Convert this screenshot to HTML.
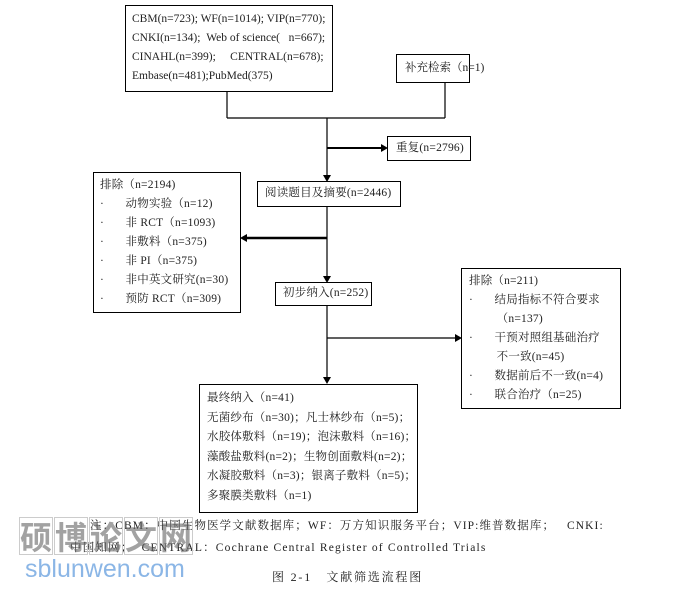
<!DOCTYPE html>
<html><head><meta charset="utf-8"><style>
body{margin:0;width:696px;height:589px;background:#fff;position:relative;overflow:hidden;font-family:"Liberation Serif","Noto Serif CJK SC",serif;font-size:11.5px;letter-spacing:0.2px;color:#222}
.b{position:absolute;border:1.5px solid #000;box-sizing:border-box;background:#fff}
.t{position:absolute;white-space:nowrap;line-height:19px}
.wm{position:absolute;top:517px;width:34px;height:38px;border:1px solid #ccc;box-sizing:border-box;font-family:"Noto Sans CJK SC",sans-serif;font-weight:bold;font-size:32px;line-height:36px;text-align:center;color:rgba(100,100,100,0.6);letter-spacing:0}
</style></head><body>
<svg width="696" height="589" style="position:absolute;left:0;top:0">
<g stroke="#000" stroke-width="1.2" fill="none">
<line x1="227" y1="91" x2="227" y2="118"/><line x1="445" y1="82" x2="445" y2="118"/>
<line x1="227" y1="118" x2="445" y2="118"/>
<line x1="327" y1="118" x2="327" y2="176"/>
<line x1="327" y1="148" x2="381" y2="148" stroke-width="2"/>
<line x1="327" y1="206" x2="327" y2="276"/>
<line x1="327" y1="238" x2="246" y2="238" stroke-width="2.5"/>
<line x1="327" y1="305" x2="327" y2="378"/>
<line x1="327" y1="338" x2="455" y2="338"/>
</g>
<g fill="#000">
<polygon points="323,175 331,175 327,182"/>
<polygon points="381,144 381,152 388,148"/>
<polygon points="247,234 247,242 240,238"/>
<polygon points="323,276 331,276 327,283"/>
<polygon points="455,334 455,342 462,338"/>
<polygon points="323,377 331,377 327,384"/>
</g></svg>
<div class="b" style="left:125px;top:5px;width:208px;height:87px"></div>
<div class="t" style="left:132px;top:10px;letter-spacing:0">CBM(n=723); WF(n=1014); VIP(n=770);<br>CNKI(n=134); &nbsp;Web of science( &nbsp; n=667);<br>CINAHL(n=399); &nbsp; &nbsp; CENTRAL(n=678);<br>Embase(n=481);PubMed(375)</div>
<div class="b" style="left:396px;top:54px;width:74px;height:29px"></div>
<div class="t" style="left:405px;top:59px;letter-spacing:0">补充检索（n=1)</div>
<div class="b" style="left:387px;top:136px;width:84px;height:25px"></div>
<div class="t" style="left:396px;top:139px">重复(n=2796)</div>
<div class="b" style="left:257px;top:181px;width:144px;height:26px"></div>
<div class="t" style="left:265px;top:184px">阅读题目及摘要(n=2446)</div>
<div class="b" style="left:93px;top:172px;width:148px;height:141px"></div>
<div class="t" style="left:100px;top:176px">排除（n=2194)<br>·&nbsp;&nbsp;&nbsp;&nbsp;&nbsp;&nbsp;&nbsp;动物实验（n=12)<br>·&nbsp;&nbsp;&nbsp;&nbsp;&nbsp;&nbsp;&nbsp;非 RCT（n=1093)<br>·&nbsp;&nbsp;&nbsp;&nbsp;&nbsp;&nbsp;&nbsp;非敷料（n=375)<br>·&nbsp;&nbsp;&nbsp;&nbsp;&nbsp;&nbsp;&nbsp;非 PI（n=375)<br>·&nbsp;&nbsp;&nbsp;&nbsp;&nbsp;&nbsp;&nbsp;非中英文研究(n=30)<br>·&nbsp;&nbsp;&nbsp;&nbsp;&nbsp;&nbsp;&nbsp;预防 RCT（n=309)</div>
<div class="b" style="left:275px;top:282px;width:97px;height:24px"></div>
<div class="t" style="left:283px;top:284px">初步纳入(n=252)</div>
<div class="b" style="left:461px;top:268px;width:160px;height:141px"></div>
<div class="t" style="left:469px;top:272px">排除（n=211)<br>·&nbsp;&nbsp;&nbsp;&nbsp;&nbsp;&nbsp;&nbsp;结局指标不符合要求<br>&nbsp;&nbsp;&nbsp;&nbsp;&nbsp;&nbsp;&nbsp;&nbsp;&nbsp;（n=137)<br>·&nbsp;&nbsp;&nbsp;&nbsp;&nbsp;&nbsp;&nbsp;干预对照组基础治疗<br>&nbsp;&nbsp;&nbsp;&nbsp;&nbsp;&nbsp;&nbsp;&nbsp;&nbsp;不一致(n=45)<br>·&nbsp;&nbsp;&nbsp;&nbsp;&nbsp;&nbsp;&nbsp;数据前后不一致(n=4)<br>·&nbsp;&nbsp;&nbsp;&nbsp;&nbsp;&nbsp;&nbsp;联合治疗（n=25)</div>
<div class="b" style="left:199px;top:384px;width:219px;height:129px"></div>
<div class="t" style="left:207px;top:389px;line-height:19.5px">最终纳入（n=41)<br>无菌纱布（n=30)；凡士林纱布（n=5)；<br>水胶体敷料（n=19)；泡沫敷料（n=16)；<br>藻酸盐敷料(n=2)；生物创面敷料(n=2)；<br>水凝胶敷料（n=3)；银离子敷料（n=5)；<br>多聚膜类敷料（n=1)</div>
<div class="t" style="left:90px;top:517px;letter-spacing:1.1px">注：CBM：中国生物医学文献数据库；WF：万方知识服务平台；VIP:维普数据库； &nbsp; CNKI:</div>
<div class="t" style="left:70px;top:539px;letter-spacing:1.2px">中国知网； &nbsp;CENTRAL：Cochrane Central Register of Controlled Trials</div>
<div class="wm" style="left:19px">硕</div><div class="wm" style="left:54px">博</div><div class="wm" style="left:89px">论</div><div class="wm" style="left:124px">文</div><div class="wm" style="left:159px">网</div>
<div class="t" style="left:25px;top:555px;font-family:'Liberation Sans',sans-serif;font-size:25px;line-height:28px;letter-spacing:0;color:#8bb6e6">sblunwen.com</div>
<div class="t" style="left:272px;top:568px;font-size:12px;letter-spacing:1.8px">图 2-1 &nbsp;&nbsp;文献筛选流程图</div>
</body></html>
